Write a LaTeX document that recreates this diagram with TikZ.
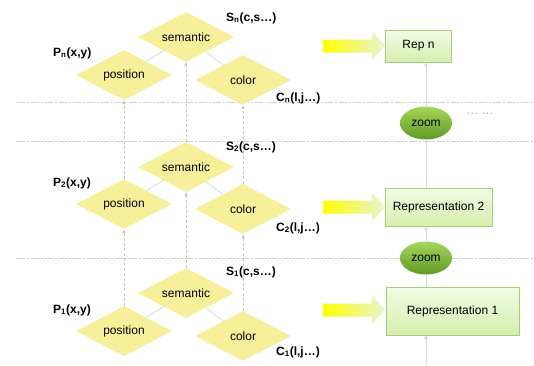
\documentclass[tikz,border=0pt]{standalone}
\usepackage{fontspec}
\setmainfont{Liberation Sans}
\usetikzlibrary{shapes.geometric,arrows.meta,backgrounds}
\definecolor{diafill}{HTML}{F7F09A}
\definecolor{boxtop}{HTML}{F2FAE4}
\definecolor{boxbot}{HTML}{D6EFAE}
\definecolor{boxline}{HTML}{A9CC78}
\definecolor{ovtop}{HTML}{A6D65A}
\definecolor{ovbot}{HTML}{5E9A24}
\definecolor{arrend}{HTML}{E6F4D2}
\begin{document}
\begin{tikzpicture}[x=1pt,y=-1pt,
  font=\fontsize{12}{14}\selectfont,
  dia/.style={diamond,aspect=2,inner sep=0pt,fill=diafill,minimum width=96pt,minimum height=50pt},
  lbl/.style={font=\fontsize{12}{14}\selectfont\bfseries,inner sep=0pt},
  rep/.style={rectangle,draw=boxline,line width=0.8pt,top color=boxtop,bottom color=boxbot,inner sep=0pt},
  zoomov/.style={ellipse,top color=ovtop,bottom color=ovbot,inner sep=0pt,minimum width=52pt,minimum height=33pt},
  vup/.style={draw=gray!45,dash pattern=on 3pt off 2pt,line width=0.6pt,-{Triangle[length=4pt,width=3pt]}},
  link/.style={draw=gray!30,line width=0.8pt},
  sep/.style={draw=gray!35,line width=0.7pt,dash pattern=on 8pt off 2pt on 2pt off 2pt},
  flow/.style={draw=gray!30,line width=1pt,-{Triangle[length=4pt,width=3.5pt]}},
  flowplain/.style={draw=gray!30,line width=1pt}
]
\useasboundingbox (0,0) rectangle (534,365);

% separators
\draw[sep] (17,102) -- (534,102);
\draw[sep] (17,141) -- (534,141);
\draw[sep] (17,258) -- (534,258);

% tier 1
\node[dia] (s1) at (186,293) {semantic};
\node[dia] (p1) at (124,331) {position};
\node[dia] (c1) at (243,336) {color};
% tier 2
\node[dia] (s2) at (186,167) {semantic};
\node[dia] (p2) at (124,204) {position};
\node[dia] (c2) at (243,209) {color};
% tier n
\node[dia] (sn) at (186,37) {semantic};
\node[dia] (pn) at (124,75) {position};
\node[dia] (cn) at (243,80) {color};

\begin{scope}[on background layer]
\foreach \t in {1,2,n}{
  \draw[link] (s\t.center) -- (p\t.center);
  \draw[link] (s\t.center) -- (c\t.center);
}
\end{scope}

\draw[vup] (p1.north) -- (p2.south);
\draw[vup] (s1.north) -- (s2.south);
\draw[vup] (c1.north) -- (c2.south);
\draw[vup] (p2.north) -- (pn.south);
\draw[vup] (s2.north) -- (sn.south);
\draw[vup] (c2.north) -- (cn.south);

% labels
\node[lbl,anchor=west] (ls1) at (226,272) {S\textsubscript{1}(c,s\ldots)};
\node[lbl,anchor=west] (lp1) at (53,310) {P\textsubscript{1}(x,y)};
\node[lbl,anchor=west] (lc1) at (276,352) {C\textsubscript{1}(l,j\ldots)};
\node[lbl,anchor=west] (ls2) at (226,147) {S\textsubscript{2}(c,s\ldots)};
\node[lbl,anchor=west] (lp2) at (53,183) {P\textsubscript{2}(x,y)};
\node[lbl,anchor=west] (lc2) at (276,228) {C\textsubscript{2}(l,j\ldots)};
\node[lbl,anchor=west] (lsn) at (226,18) {S\textsubscript{n}(c,s\ldots)};
\node[lbl,anchor=west] (lpn) at (53,53) {P\textsubscript{n}(x,y)};
\node[lbl,anchor=west] (lcn) at (276,98) {C\textsubscript{n}(l,j\ldots)};

% right column
\node[rep,minimum width=133pt,minimum height=48pt] (r1) at (452.5,311) {Representation 1};
\node[rep,minimum width=107pt,minimum height=38pt] (r2) at (438.5,207) {Representation 2};
\node[rep,minimum width=66pt,minimum height=32pt] (rn) at (418.5,46) {Rep n};
\node[zoomov] (z2) at (426,258) {zoom};
\node[zoomov] (z1) at (426,123) {zoom};
\node[text=gray!70,inner sep=0pt] (dots) at (480,114) {\ldots\ \ldots};

\coordinate (bot) at (426,365);
\begin{scope}[on background layer]
\draw[flow] (bot) -- (426,335);
\draw[flowplain] (426,287) -- (z2);
\draw[flow] (z2) -- (426,226);
\draw[flowplain] (426,188) -- (z1);
\draw[flow] (z1) -- (426,62);
\end{scope}

% gradient arrows
\foreach \yy/\tgt in {46/rn,207/r2,310/r1}{
  \shade[left color=yellow,right color=arrend]
    (323,\yy-6.5) -- (372,\yy-6.5) -- (372,\yy-14) -- (385,\yy) -- (372,\yy+14) -- (372,\yy+6.5) -- (323,\yy+6.5) -- cycle;
}
\end{tikzpicture}
\end{document}
